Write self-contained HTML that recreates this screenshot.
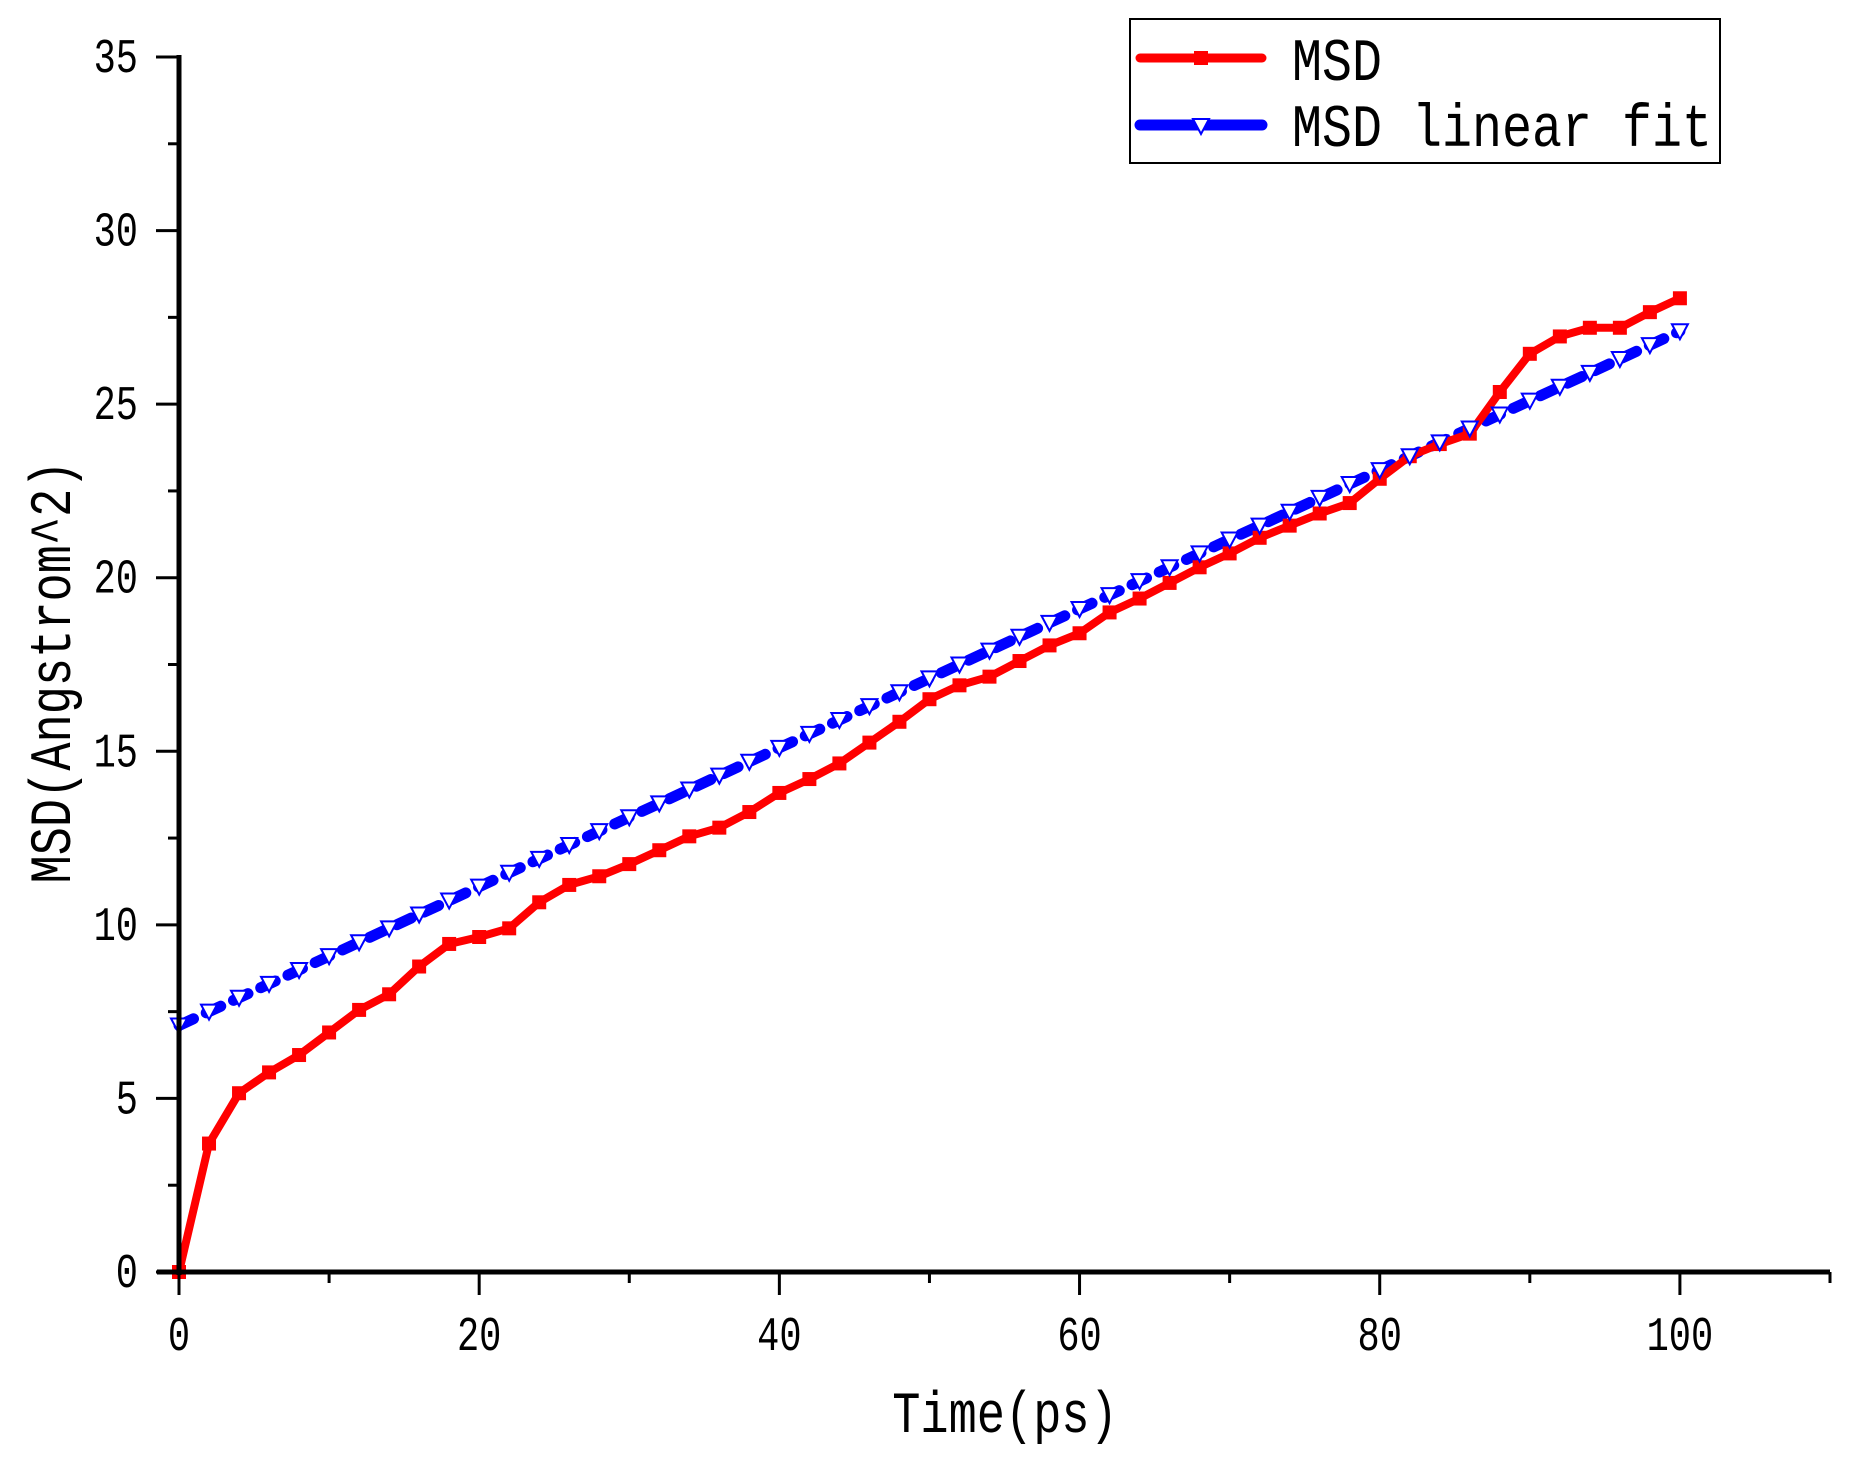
<!DOCTYPE html>
<html><head><meta charset="utf-8"><style>
html,body{margin:0;padding:0;background:#fff;}
svg{display:block;}
text{font-family:"Liberation Mono","Noto Serif CJK SC",monospace;fill:#000;}
</style></head><body>
<svg id="chart" width="1857" height="1458" viewBox="0 0 1857 1458" xmlns="http://www.w3.org/2000/svg">
<g id="plot"></g>
<g id="axes"></g>
<g id="legend"></g>
</svg>
<script>
const times = [0,2,4,6,8,10,12,14,16,18,20,22,24,26,28,30,32,34,36,38,40,42,44,46,48,50,52,54,56,58,60,62,64,66,68,70,72,74,76,78,80,82,84,86,88,90,92,94,96,98,100];
const msdValues = [0,3.7,5.15,5.75,6.25,6.9,7.55,8.0,8.8,9.45,9.65,9.9,10.65,11.15,11.4,11.75,12.15,12.55,12.8,13.25,13.8,14.2,14.65,15.25,15.85,16.5,16.9,17.15,17.6,18.05,18.4,19.0,19.4,19.85,20.3,20.7,21.15,21.5,21.85,22.15,22.85,23.5,23.85,24.15,25.35,26.45,26.95,27.2,27.2,27.65,28.05];
const fitValues = [7.1,7.5,7.9,8.3,8.7,9.1,9.5,9.9,10.3,10.7,11.1,11.5,11.9,12.3,12.7,13.1,13.5,13.9,14.3,14.7,15.1,15.5,15.9,16.3,16.7,17.1,17.5,17.9,18.3,18.7,19.1,19.5,19.9,20.3,20.7,21.1,21.5,21.9,22.3,22.7,23.1,23.5,23.9,24.3,24.7,25.1,25.5,25.9,26.3,26.7,27.1];
const xTickLabels = ["0","20","40","60","80","100"];
const xTickValues = [0,20,40,60,80,100];
const yTickLabels = ["0","5","10","15","20","25","30","35"];
const yTickValues = [0,5,10,15,20,25,30,35];

const NS="http://www.w3.org/2000/svg";
const X0=179, X1=1830, xMin=0, xMax=110;
const Y0=1272, Y1=57, yMin=0, yMax=35;
const xs=v=>X0+(v-xMin)/(xMax-xMin)*(X1-X0);
const ys=v=>Y0-(v-yMin)/(yMax-yMin)*(Y0-Y1);
function mk(tag,attrs,parent){const e=document.createElementNS(NS,tag);for(const k in attrs)e.setAttribute(k,attrs[k]);parent.appendChild(e);return e;}
const plot=document.getElementById('plot'), axes=document.getElementById('axes'), legend=document.getElementById('legend');

let d=fitValues.map((v,i)=>(i?'L':'M')+xs(times[i]).toFixed(1)+' '+ys(v).toFixed(1)).join(' ');
let fitLine=mk('path',{d:d,fill:'none',stroke:'#0000ff','stroke-width':11,'stroke-dasharray':'16 14','stroke-linecap':'round'},plot);


d=msdValues.map((v,i)=>(i?'L':'M')+xs(times[i]).toFixed(1)+' '+ys(v).toFixed(1)).join(' ');
let msdLine=mk('path',{d:d,fill:'none',stroke:'#ff0000','stroke-width':8,'stroke-linejoin':'round'},plot);


msdValues.forEach((v,i)=>{
  const r=mk('rect',{x:xs(times[i])-7,y:ys(v)-7,width:14,height:14,fill:'#ff0000'},plot);
  
  
});
fitValues.forEach((v,i)=>{
  const cx=xs(times[i]), cy=ys(v);
  const p=mk('polygon',{points:`${cx-8},${cy-7} ${cx+8},${cy-7} ${cx},${cy+8}`,fill:'#fff',stroke:'#0000ff','stroke-width':2},plot);
  
  
});

mk('line',{x1:X0,y1:Y1-2,x2:X0,y2:Y0+3,stroke:'#000','stroke-width':5},axes);
mk('line',{x1:X0-22,y1:Y0,x2:X1,y2:Y0,stroke:'#000','stroke-width':5},axes);
for(let v=0;v<=110;v+=10){
  const major=v%20===0;
  mk('line',{x1:xs(v),y1:Y0,x2:xs(v),y2:Y0+(major?23:11),stroke:'#000','stroke-width':3},axes);
}
xTickValues.forEach((v,i)=>{
  const t=mk('text',{x:xs(v),y:1350,'text-anchor':'middle','font-size':37,transform:`translate(0,${1350}) scale(1,1.3) translate(0,${-1350})`},axes);
  t.textContent=xTickLabels[i];
  
  
});
for(let v=0;v<=35;v+=2.5){
  const major=v%5===0;
  mk('line',{x1:X0-(major?23:11),y1:ys(v),x2:X0,y2:ys(v),stroke:'#000','stroke-width':3},axes);
}
yTickValues.forEach((v,i)=>{
  const y=ys(v)+15;
  const t=mk('text',{x:138,y:y,'text-anchor':'end','font-size':37,transform:`translate(0,${y}) scale(1,1.3) translate(0,${-y})`},axes);
  t.textContent=yTickLabels[i];
  
  
});
let xt=mk('text',{x:1005,y:1432,'text-anchor':'middle','font-size':47,transform:'translate(0,1432) scale(1,1.25) translate(0,-1432)'},axes);
xt.textContent='Time(ps)';


let yt=mk('text',{x:0,y:0,'text-anchor':'middle','font-size':47,transform:'translate(70,672) rotate(-90) scale(1,1.25)'},axes);
yt.textContent='MSD(Angstrom^2)';



let box=mk('rect',{x:1130,y:19,width:590,height:144,fill:'#fff',stroke:'#000','stroke-width':2},legend);


mk('line',{x1:1140,y1:58,x2:1262,y2:58,stroke:'#ff0000','stroke-width':9,'stroke-linecap':'round'},legend);
mk('rect',{x:1194,y:51,width:14,height:14,fill:'#ff0000'},legend);
mk('line',{x1:1140,y1:125,x2:1262,y2:125,stroke:'#0000ff','stroke-width':11,'stroke-linecap':'round'},legend);
mk('polygon',{points:'1193,119 1209,119 1201,134',fill:'#fff',stroke:'#0000ff','stroke-width':2},legend);
let l1=mk('text',{x:1292,y:80,'font-size':50,transform:'translate(0,80) scale(1,1.2) translate(0,-80)'},legend);
l1.textContent='MSD';


let l2=mk('text',{x:1292,y:146,'font-size':50,transform:'translate(0,146) scale(1,1.2) translate(0,-146)'},legend);
l2.textContent='MSD linear fit';


</script>
</body></html>
